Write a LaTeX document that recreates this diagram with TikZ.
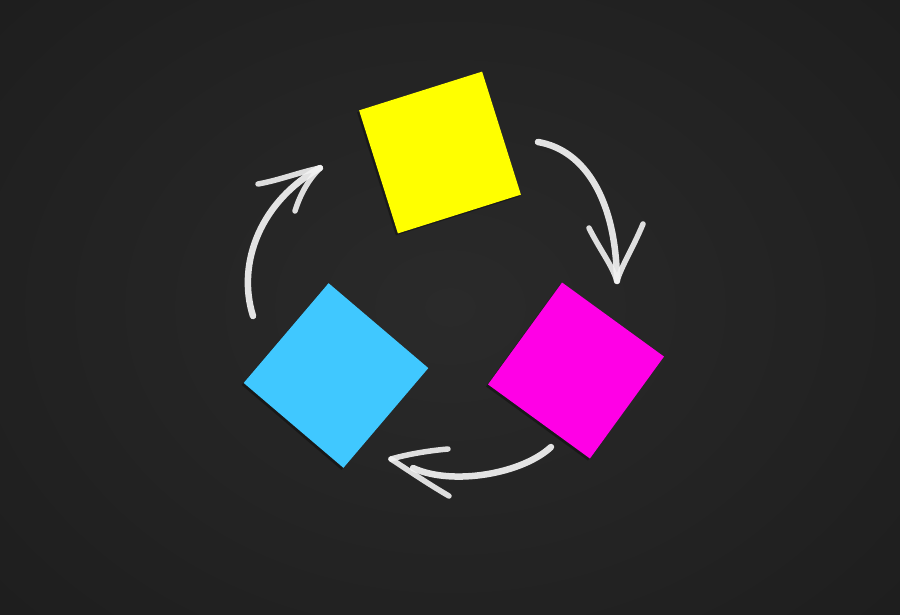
\documentclass[tikz,border=0pt]{standalone}
\definecolor{board}{RGB}{42,42,42}
\definecolor{boardedge}{RGB}{30,30,30}
\definecolor{noteyellow}{RGB}{255,255,0}
\definecolor{notemagenta}{RGB}{255,0,230}
\definecolor{notecyan}{RGB}{64,200,255}
\definecolor{chalk}{RGB}{242,242,242}
\begin{document}
\begin{tikzpicture}[x=1pt,y=-1pt,
  note/.style={rectangle, minimum size=#1, inner sep=0pt, draw=none},
  shadowbox/.style={rectangle, minimum size=#1, inner sep=0pt, fill=black, opacity=0.35},
  chalkline/.style={draw=chalk, line width=6.5pt, line cap=round, line join=round, opacity=0.93},
  chalkbarb/.style={draw=chalk, line width=5.5pt, line cap=round, opacity=0.9}]
\useasboundingbox (0,0) rectangle (900,614);
\shade[inner color=board, outer color=boardedge] (-150,-150) rectangle (1050,764);
% shadows
\node[shadowbox=129pt, rotate=17.5] (ys) at (438,154.5) {};
\node[shadowbox=126pt, rotate=-36] (ms) at (574,372.5) {};
\node[shadowbox=131pt, rotate=-40.4] (cs) at (334,377.5) {};
% sticky notes
\node[note=129pt, fill=noteyellow, rotate=17.5] (yellow) at (440,152.5) {};
\node[note=126pt, fill=notemagenta, rotate=-36] (magenta) at (576,370.5) {};
\node[note=131pt, fill=notecyan, rotate=-40.4] (cyan) at (336,375.5) {};
% arrow end points
\coordinate (a1s) at (538,142);
\coordinate (a1t) at (617,281);
\coordinate (a1l) at (589,228);
\coordinate (a1r) at (643,224);
\coordinate (a2s) at (551,447);
\coordinate (a2e) at (413,468);
\coordinate (a2t) at (391,459);
\coordinate (a2u) at (448,449);
\coordinate (a2d) at (449,496);
\coordinate (a3s) at (253,316);
\coordinate (a3t) at (320,168);
\coordinate (a3u) at (258,184);
\coordinate (a3d) at (295,211);
% yellow -> magenta
\draw[chalkline] (a1s) .. controls (585,150) and (616,200) .. (a1t);
\draw[chalkbarb] (a1l) .. controls (600,250) and (612,265) .. (a1t);
\draw[chalkbarb] (a1r) .. controls (632,250) and (622,265) .. (a1t);
% magenta -> cyan
\draw[chalkline] (a2s) .. controls (522,474) and (452,486) .. (a2e);
\draw[chalkbarb] (a2u) .. controls (425,451) and (405,455) .. (a2t);
\draw[chalkbarb] (a2d) .. controls (425,482) and (405,468) .. (a2t);
% cyan -> yellow
\draw[chalkline] (a3s) .. controls (236,262) and (262,200) .. (a3t);
\draw[chalkbarb] (a3u) .. controls (280,180) and (300,172) .. (a3t);
\draw[chalkbarb] (a3d) .. controls (300,195) and (308,180) .. (a3t);
\end{tikzpicture}
\end{document}
